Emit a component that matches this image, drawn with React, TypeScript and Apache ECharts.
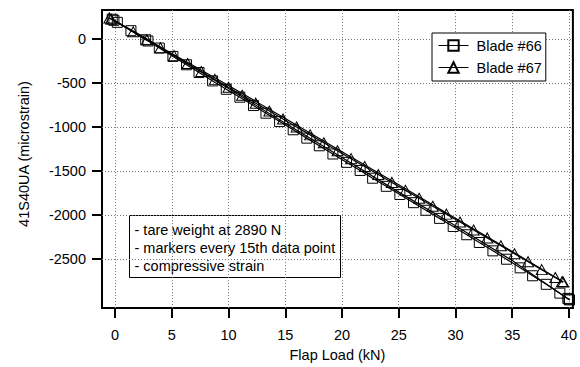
import React, { useEffect, useRef } from "react";
import * as echarts from "echarts";

// ---- data ----
const xTicks = [0, 5, 10, 15, 20, 25, 30, 35, 40];
const yTicks = [0, -500, -1000, -1500, -2000, -2500];

// Blade #66, loading pass, marker points [load kN, microstrain]
const blade66Load: [number, number][] = [
  [-0.25, 225], [-0.1, 213], [0.2, 190], [1.4, 95], [2.7, -8], [2.9, -22],
  [3.9, -102], [5.1, -197], [6.3, -292], [7.4, -380], [8.6, -475], [9.8, -570],
  [11.0, -660], [12.2, -755], [13.3, -842], [14.5, -937], [15.7, -1030],
  [16.9, -1125], [18.0, -1212], [19.2, -1305], [20.4, -1400], [21.6, -1492],
  [22.7, -1580], [23.9, -1672], [25.1, -1765], [26.3, -1858], [27.4, -1944],
  [28.6, -2036], [29.8, -2128], [31.0, -2222], [32.1, -2310], [33.3, -2405],
  [34.5, -2500], [35.7, -2598], [36.8, -2688], [38.0, -2785], [39.2, -2885],
  [39.9, -2945], [40.0, -2955], [40.05, -2962],
];
// Blade #66, unloading pass
const blade66Unload: [number, number][] = [
  [40.05, -2962], [35.0, -2515], [30.0, -2120], [25.0, -1738], [20.0, -1345],
  [15.0, -955], [10.0, -562], [5.0, -175], [2.8, 2], [-0.25, 225],
];

// Blade #67, loading pass, marker points
const blade67Load: [number, number][] = [
  [-0.5, 240], [-0.35, 228], [1.6, 82], [2.8, -8], [4.0, -98], [5.2, -188],
  [6.4, -278], [7.6, -368], [8.8, -458], [10.0, -548], [11.2, -638],
  [12.4, -728], [13.6, -818], [14.8, -908], [16.0, -998], [17.2, -1088],
  [18.4, -1178], [19.6, -1268], [20.8, -1358], [22.0, -1448], [23.2, -1538],
  [24.4, -1628], [25.6, -1718], [26.8, -1808], [28.0, -1898], [29.2, -1988],
  [30.4, -2078], [31.6, -2168], [32.8, -2258], [34.0, -2348], [35.2, -2438],
  [36.4, -2528], [37.6, -2618], [38.8, -2708], [39.4, -2753], [39.5, -2760],
];
// Blade #67, unloading pass
const blade67Unload: [number, number][] = [
  [39.5, -2760], [35.0, -2412], [30.0, -2035], [25.0, -1655], [20.0, -1280],
  [15.0, -902], [10.0, -528], [5.0, -165], [1.6, 88], [-0.5, 240],
];

const seriesNames = ["Blade #66", "Blade #67"];
const notes = [
  "- tare weight at 2890 N",
  "- markers every 15th data point",
  "- compressive strain",
];

const FONT = "'Liberation Sans', Arial, Helvetica, sans-serif";
const FS = 14.5;

export default function App() {
  const ref = useRef<HTMLDivElement>(null);

  useEffect(() => {
    if (!ref.current) return;
    const chart = echarts.init(ref.current, undefined, { renderer: "svg" });

    const markerStyle = {
      color: "rgba(0,0,0,0)",
      borderColor: "#000",
      borderWidth: 1,
    };
    const gridLineStyle = { color: "#777", width: 1, type: [1, 2] as number[] };

    chart.setOption({
      animation: false,
      backgroundColor: "#fff",
      textStyle: { fontFamily: FONT },
      grid: {
        left: 102,
        right: 7,
        top: 10,
        bottom: 57,
        show: true,
        borderColor: "#000",
        borderWidth: 2,
        backgroundColor: "rgba(0,0,0,0)",
      },
      legend: {
        data: seriesNames,
        orient: "vertical",
        left: 432,
        top: 33,
        padding: [5, 4, 6, 6],
        itemWidth: 30,
        itemHeight: 13,
        itemGap: 7,
        backgroundColor: "#fff",
        borderColor: "#000",
        borderWidth: 1,
        borderRadius: 0,
        lineStyle: { width: 1 },
        textStyle: { color: "#000", fontSize: FS, fontFamily: FONT, padding: [0, 0, 0, 3] },
      },
      xAxis: {
        type: "value",
        min: -1.15,
        max: 40.35,
        name: "Flap Load (kN)",
        nameLocation: "middle",
        nameGap: 37,
        nameTextStyle: { color: "#000", fontSize: FS, fontFamily: FONT },
        axisLine: { show: true, onZero: false, lineStyle: { color: "#000", width: 2 } },
        axisTick: { show: true, length: 10, customValues: xTicks, lineStyle: { color: "#000", width: 2 } },
        axisLabel: {
          customValues: xTicks,
          color: "#000",
          fontSize: FS,
          fontFamily: FONT,
          margin: 19,
          formatter: (v: number) => String(v),
        },
        splitLine: { show: false },
      },
      yAxis: {
        type: "value",
        min: -3055,
        max: 330,
        axisLine: { show: true, onZero: false, lineStyle: { color: "#000", width: 2 } },
        axisTick: { show: true, length: 10, customValues: yTicks, lineStyle: { color: "#000", width: 2 } },
        axisLabel: {
          customValues: yTicks,
          color: "#000",
          fontSize: FS,
          fontFamily: FONT,
          margin: 16,
          formatter: (v: number) => String(v),
        },
        splitLine: { show: false },
      },
      graphic: [
        {
          type: "text",
          x: 24,
          y: 154,
          rotation: Math.PI / 2,
          style: {
            text: "41S40UA (microstrain)",
            fill: "#000",
            font: `${FS}px ${FONT}`,
            textAlign: "center",
            textVerticalAlign: "middle",
          },
        },
        {
          type: "group",
          left: 129,
          top: 215,
          z: 100,
          children: [
            {
              type: "rect",
              shape: { x: 0, y: 0, width: 211, height: 62 },
              style: { fill: "#fff", stroke: "#000", lineWidth: 1 },
            },
            ...notes.map((t, i) => ({
              type: "text",
              x: 5,
              y: 14 + i * 18,
              style: {
                text: t,
                fill: "#000",
                font: `${FS}px ${FONT}`,
                textAlign: "left",
                textVerticalAlign: "middle",
              },
            })),
          ],
        },
      ],
      series: [
        {
          name: seriesNames[0],
          type: "line",
          data: blade66Load,
          symbol: "rect",
          symbolSize: 10,
          showAllSymbol: true,
          lineStyle: { color: "#000", width: 1.2 },
          itemStyle: markerStyle,
          z: 3,
        },
        {
          name: seriesNames[1],
          type: "line",
          data: blade67Load,
          symbol: "triangle",
          symbolSize: [11, 10],
          showAllSymbol: true,
          lineStyle: { color: "#000", width: 1.2 },
          itemStyle: markerStyle,
          z: 3,
        },
        {
          name: seriesNames[0],
          type: "line",
          data: blade66Unload,
          symbol: "none",
          lineStyle: { color: "#000", width: 1.2 },
          z: 3,
          markLine: {
            silent: true,
            symbol: ["none", "none"],
            label: { show: false },
            lineStyle: gridLineStyle,
            emphasis: { disabled: true },
            data: [
              ...xTicks.map((v) => ({ xAxis: v })),
              ...yTicks.map((v) => ({ yAxis: v })),
            ],
            z: 1,
          },
        },
        {
          name: seriesNames[1],
          type: "line",
          data: blade67Unload,
          symbol: "none",
          lineStyle: { color: "#000", width: 1.2 },
          z: 3,
        },
      ],
    });

    return () => chart.dispose();
  }, []);

  return <div ref={ref} style={{ width: 580, height: 367, position: "absolute", left: 0, top: 0 }} />;
}
